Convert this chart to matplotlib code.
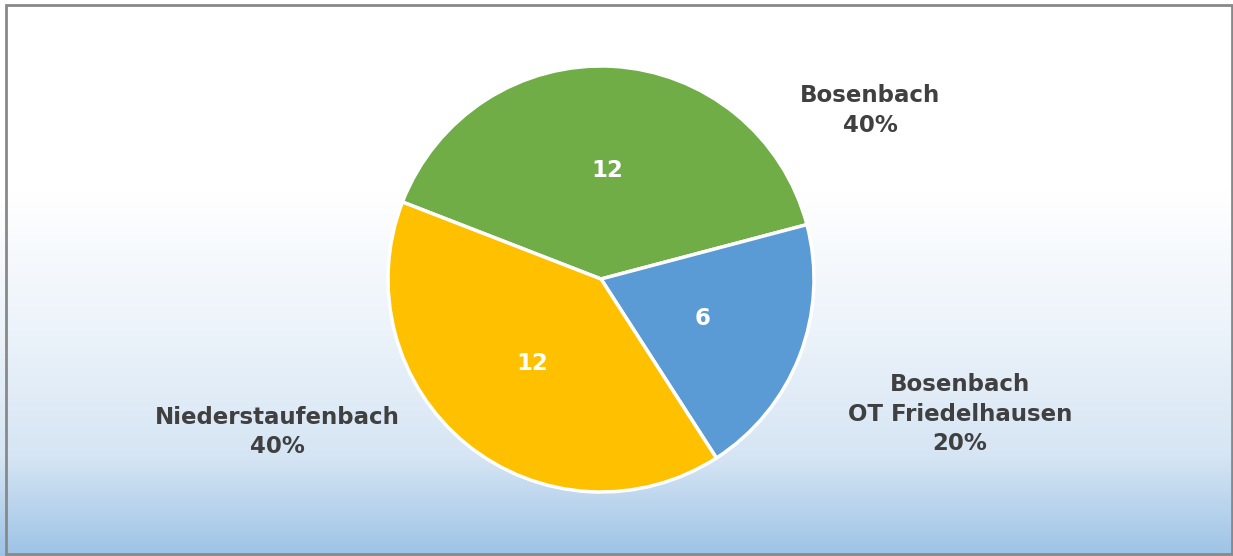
import numpy as np
import matplotlib.pyplot as plt
from matplotlib.patches import Rectangle

# Daten
orte = ["Bosenbach", "Bosenbach\nOT Friedelhausen", "Niederstaufenbach"]
werte = [12, 6, 12]
farben = ["#70AD47", "#5B9BD5", "#FFC000"]

fig = plt.figure(figsize=(12.33, 5.56), dpi=100)

# Hintergrund mit Farbverlauf (weiss -> hellblau)
bg = fig.add_axes([0, 0, 1, 1])
h = 556
y = np.arange(h)
stops_y = [0, 190, 330, 456, 555]
stops_c = np.array([[255, 255, 255], [255, 255, 255], [236, 243, 250],
                    [214, 229, 244], [157, 195, 230]]) / 255
grad = np.stack([np.interp(y, stops_y, stops_c[:, i]) for i in range(3)], axis=1)
bg.imshow(grad[:, None, :], aspect="auto", extent=[0, 1, 0, 1], origin="upper")
bg.set_xlim(0, 1)
bg.set_ylim(0, 1)
bg.axis("off")
bg.add_patch(Rectangle((6 / 1233, 2 / 556), 1 - 7 / 1233, 1 - 7 / 556,
                       fill=False, edgecolor="#898989", linewidth=2))

# Kreisdiagramm
r = 213
cx, cy = 601, 556 - 279
ax = fig.add_axes([(cx - r) / 1233, (cy - r) / 556, 2 * r / 1233, 2 * r / 556])
wedges, texts, autotexts = ax.pie(
    werte, labels=orte, colors=farben, startangle=158.8, counterclock=False,
    autopct=lambda p: f"{p * sum(werte) / 100:.0f}", pctdistance=0.51,
    wedgeprops=dict(edgecolor="white", linewidth=2.5),
    textprops=dict(fontsize=16.5, fontweight="bold"))
ax.set_xlim(-1, 1)
ax.set_ylim(-1, 1)
ax.axis("off")

for t in autotexts:
    t.set_color("white")

label_pos = [(1.263, 0.793), (1.685, -0.634), (-1.521, -0.718)]
gesamt = sum(werte)
for t, w, pos in zip(texts, werte, label_pos):
    t.set_text(f"{t.get_text()}\n{w / gesamt * 100:.0f}%")
    t.set_position(pos)
    t.set_ha("center")
    t.set_va("center")
    t.set_multialignment("center")
    t.set_color("#404040")
    t.set_linespacing(1.38)

fig.savefig("out.png", dpi=100)
